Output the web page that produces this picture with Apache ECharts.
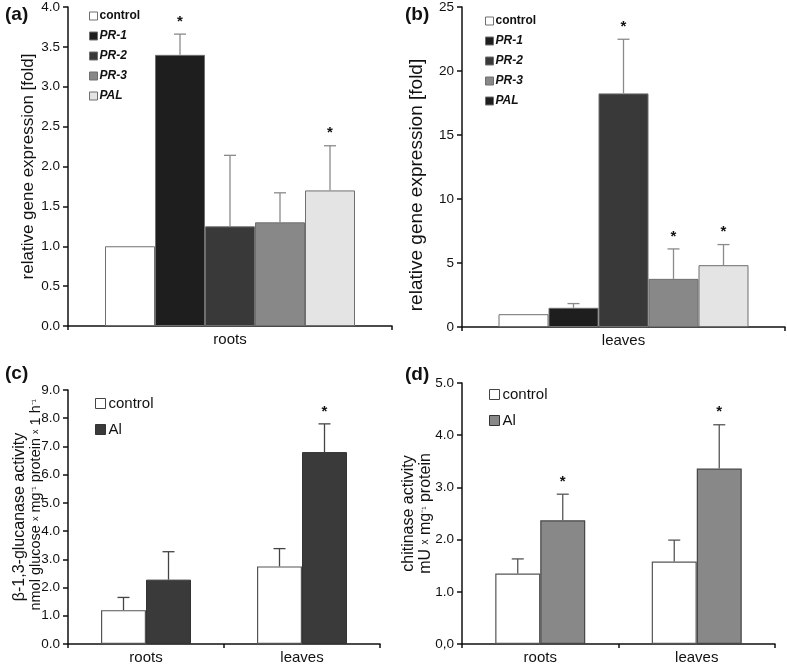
<!DOCTYPE html>
<html>
<head>
<meta charset="utf-8">
<script src="https://cdn.jsdelivr.net/npm/echarts@6/dist/echarts.min.js"></script>
<style>
  html, body { margin: 0; padding: 0; background: #fff; }
  #chart { width: 787px; height: 665px; }
</style>
</head>
<body>
<div id="chart"></div>
<script>
// ---- data ----
const genes = ['control', 'PR-1', 'PR-2', 'PR-3', 'PAL'];
const geneColors = ['#ffffff', '#1e1e1e', '#393939', '#888888', '#e4e4e4'];

// (a) roots, relative expression
const rootsExpr = [1.0, 3.4, 1.25, 1.3, 1.7];
const rootsExprErr = [0, 0.26, 0.89, 0.37, 0.56];
const rootsExprStar = [false, true, false, false, true];

// (b) leaves, relative expression
const leavesExpr = [1.0, 1.5, 18.25, 3.76, 4.83];
const leavesExprErr = [0, 0.33, 4.23, 2.34, 1.61];
const leavesExprStar = [false, false, true, true, true];

// (c) glucanase, (d) chitinase
const tissues = ['roots', 'leaves'];
const glucControl = [1.2, 2.75];
const glucControlErr = [0.45, 0.63];
const glucAl = [2.28, 6.8];
const glucAlErr = [0.99, 1.0];
const glucAlStar = [false, true];
const chitControl = [1.35, 1.58];
const chitControlErr = [0.28, 0.41];
const chitAl = [2.37, 3.36];
const chitAlErr = [0.5, 0.84];
const chitAlStar = [true, true];

const FONT = 'Liberation Sans, Arial, sans-serif';
const chart = echarts.init(document.getElementById('chart'));

function yAxisCfg(gridIndex, max, interval, name, nameGap, fmt, nameStyle) {
  return {
    type: 'value', gridIndex, min: 0, max, interval,
    name, nameLocation: 'middle', nameGap, nameMoveOverlap: false,
    nameTextStyle: Object.assign({ fontFamily: FONT, fontSize: 17, color: '#111', lineHeight: 18 }, nameStyle || {}),
    axisLine: { show: true, lineStyle: { color: '#111', width: 1.5 } },
    axisTick: { show: true, length: 5, lineStyle: { color: '#111', width: 1.5 } },
    axisLabel: { fontFamily: FONT, fontSize: 13.5, color: '#111', margin: 8, formatter: fmt },
    splitLine: { show: false }
  };
}

function xAxisCfg(gridIndex, data) {
  return {
    type: 'category', gridIndex, data,
    axisLine: { lineStyle: { color: '#111', width: 1.5 } },
    axisTick: { show: true, length: 4, lineStyle: { color: '#111', width: 1.5 } },
    axisLabel: { fontFamily: FONT, fontSize: 15, color: '#111', margin: 6 }
  };
}

// upper-only error bars + significance stars, offset to each bar of a group
function errorSeries(axisIdx, items, nGroup, barWidth, color) {
  return {
    type: 'custom', name: 'err' + axisIdx,
    xAxisIndex: axisIdx, yAxisIndex: axisIdx,
    data: items, z: 5, silent: true,
    renderItem: function (params, api) {
      const cat = api.value(0), val = api.value(1), err = api.value(2);
      const idx = api.value(3), star = api.value(4);
      const base = api.coord([cat, val]);
      const top = api.coord([cat, val + err]);
      const x = base[0] + (idx - (nGroup - 1) / 2) * barWidth;
      const children = [];
      if (err > 0) {
        children.push({ type: 'line', shape: { x1: x, y1: base[1], x2: x, y2: top[1] },
          style: { stroke: color, lineWidth: 1.3 } });
        children.push({ type: 'line', shape: { x1: x - 6, y1: top[1], x2: x + 6, y2: top[1] },
          style: { stroke: color, lineWidth: 1.3 } });
      }
      if (star) {
        children.push({ type: 'text', x: x, y: top[1] - 5,
          style: { text: '*', fontFamily: FONT, fontSize: 15, fontWeight: 'bold', fill: '#111',
            align: 'center', verticalAlign: 'bottom' } });
      }
      return { type: 'group', children };
    }
  };
}

const series = [];
const errA = [], errB = [];
genes.forEach((g, i) => {
  const style = { color: geneColors[i], borderColor: '#6f6f6f', borderWidth: 1 };
  series.push({ type: 'bar', name: g, xAxisIndex: 0, yAxisIndex: 0, data: [rootsExpr[i]],
    barWidth: 50, barGap: '0%', itemStyle: style });
  series.push({ type: 'bar', name: g, xAxisIndex: 1, yAxisIndex: 1, data: [leavesExpr[i]],
    barWidth: 50, barGap: '0%', itemStyle: style });
  errA.push([0, rootsExpr[i], rootsExprErr[i], i, rootsExprStar[i] ? 1 : 0]);
  errB.push([0, leavesExpr[i], leavesExprErr[i], i, leavesExprStar[i] ? 1 : 0]);
});

const ctrlStyle = { color: '#ffffff', borderColor: '#555', borderWidth: 1.2 };
series.push({ type: 'bar', name: 'control', xAxisIndex: 2, yAxisIndex: 2, data: glucControl,
  barWidth: 45, barGap: '0%', itemStyle: ctrlStyle });
series.push({ type: 'bar', name: 'Al', xAxisIndex: 2, yAxisIndex: 2, data: glucAl,
  barWidth: 45, barGap: '0%', itemStyle: { color: '#3a3a3a', borderColor: '#333', borderWidth: 1 } });
series.push({ type: 'bar', name: 'control', xAxisIndex: 3, yAxisIndex: 3, data: chitControl,
  barWidth: 45, barGap: '0%', itemStyle: ctrlStyle });
series.push({ type: 'bar', name: 'Al', xAxisIndex: 3, yAxisIndex: 3, data: chitAl,
  barWidth: 45, barGap: '0%', itemStyle: { color: '#888888', borderColor: '#444', borderWidth: 1.2 } });

const errC = [], errD = [];
tissues.forEach((t, k) => {
  errC.push([k, glucControl[k], glucControlErr[k], 0, 0]);
  errC.push([k, glucAl[k], glucAlErr[k], 1, glucAlStar[k] ? 1 : 0]);
  errD.push([k, chitControl[k], chitControlErr[k], 0, 0]);
  errD.push([k, chitAl[k], chitAlErr[k], 1, chitAlStar[k] ? 1 : 0]);
});

series.push(errorSeries(0, errA, 5, 50, '#8a8a8a'));
series.push(errorSeries(1, errB, 5, 50, '#8a8a8a'));
series.push(errorSeries(2, errC, 2, 45, '#444'));
series.push(errorSeries(3, errD, 2, 45, '#555'));

// legend entries, colours set per panel (panel b shows PAL with a dark key)
function geneLegend(left, top, colors) {
  return {
    orient: 'vertical', left, top, itemWidth: 8, itemHeight: 8, itemGap: 8,
    selectedMode: false, icon: 'rect',
    textStyle: { fontFamily: FONT, fontSize: 12, fontWeight: 'bold', color: '#111', padding: [0, 0, 0, -3] },
    data: genes.map((g, i) => ({
      name: g, itemStyle: { color: colors[i], borderColor: '#6f6f6f', borderWidth: 1 },
      textStyle: { fontStyle: i === 0 ? 'normal' : 'italic' }
    }))
  };
}
function treatLegend(left, top, alColor) {
  return {
    orient: 'vertical', left, top, itemWidth: 10, itemHeight: 10, itemGap: 11,
    selectedMode: false, icon: 'rect',
    textStyle: { fontFamily: FONT, fontSize: 15, color: '#111', padding: [0, 0, 0, -2] },
    data: [
      { name: 'control', itemStyle: { color: '#fff', borderColor: '#444', borderWidth: 1 } },
      { name: 'Al', itemStyle: { color: alColor, borderColor: '#333', borderWidth: 1 } }
    ]
  };
}

const panelTitle = (text, left, top) => ({
  text, left, top, textStyle: { fontFamily: FONT, fontSize: 19, fontWeight: 'bold', color: '#111' }
});

// small "x" and superscripts inside the two-line unit names
const glucRich = {
  m: { fontFamily: FONT, fontSize: 14.5, color: '#111', lineHeight: 16 },
  s: { fontFamily: FONT, fontSize: 9, color: '#111', lineHeight: 16 }
};
const chitRich = { s: { fontFamily: FONT, fontSize: 10, color: '#111', lineHeight: 17 } };
const fmt1 = v => v.toFixed(1);
const option = {
  animation: false,
  backgroundColor: '#fff',
  title: [
    panelTitle('(a)', 0, 0),
    panelTitle('(b)', 400, 0),
    panelTitle('(c)', 0, 359),
    panelTitle('(d)', 400, 360)
  ],
  legend: [
    geneLegend(84, 5, geneColors),
    geneLegend(480, 10, ['#ffffff', '#1e1e1e', '#393939', '#888888', '#1e1e1e']),
    treatLegend(90, 391, '#3a3a3a'),
    treatLegend(484, 382, '#888888')
  ],
  grid: [
    { left: 68, top: 6, width: 324, height: 320 },
    { left: 462, top: 6, width: 323, height: 321 },
    { left: 68, top: 390, width: 312, height: 256 },
    { left: 462, top: 383, width: 313, height: 262 }
  ],
  xAxis: [
    xAxisCfg(0, ['roots']),
    xAxisCfg(1, ['leaves']),
    xAxisCfg(2, tissues),
    xAxisCfg(3, tissues)
  ],
  yAxis: [
    yAxisCfg(0, 4, 0.5, 'relative gene expression [fold]', 31, fmt1),
    yAxisCfg(1, 25, 5, 'relative gene expression [fold]', 36, v => String(v),
      { fontSize: 19, padding: [0, 36, 0, 0] }),
    yAxisCfg(2, 9, 1,
      'β-1,3-glucanase activity\n{m|      nmol glucose }{s|x}{m| mg}{s|⁻¹}{m| protein }{s|x}{m| 1 h}{s|⁻¹}', 24, fmt1,
      { fontSize: 16, lineHeight: 16, rich: glucRich }),
    yAxisCfg(3, 5, 1, 'chitinase activity\nmU {s|x} mg{s|⁻¹} protein', 28, v => v === 0 ? '0,0' : v.toFixed(1),
      { fontSize: 16, lineHeight: 17, rich: chitRich })
  ],
  series
};

chart.setOption(option);
</script>
</body>
</html>
